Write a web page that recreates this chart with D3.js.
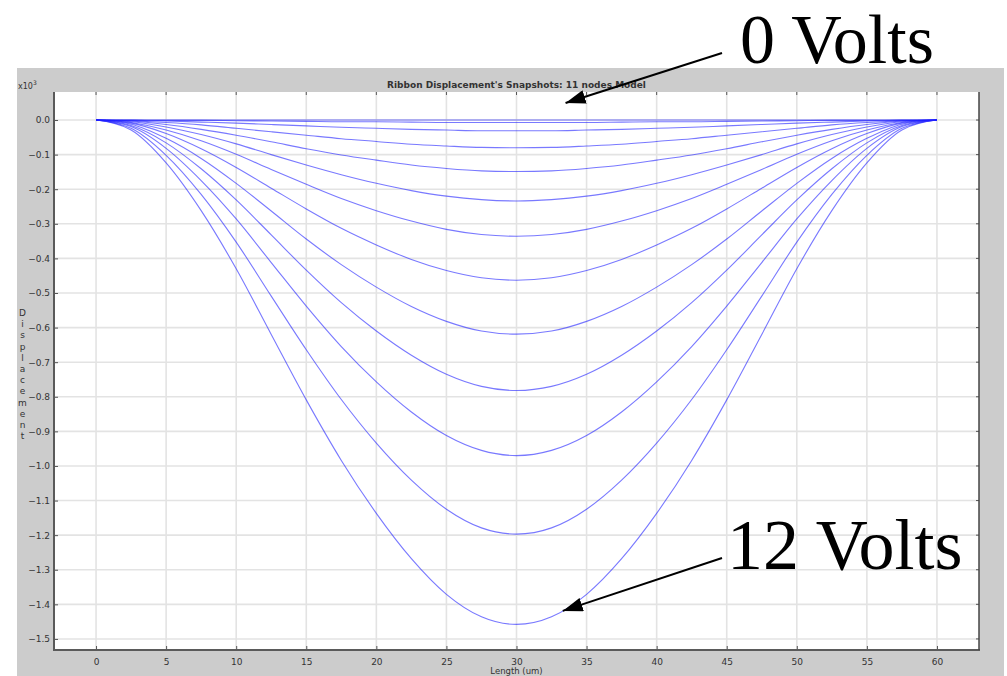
<!DOCTYPE html>
<html>
<head>
<meta charset="utf-8">
<script src="https://cdn.jsdelivr.net/npm/d3@7"></script>
<style>
  html, body { margin: 0; padding: 0; background: #ffffff; }
  svg { display: block; }
</style>
</head>
<body>
<svg id="chart" width="1007" height="676"></svg>
<script>
// Ribbon length positions (um) where the displacement is sampled
const positions = [0, 2.5, 5, 7.5, 10, 12.5, 15, 17.5, 20, 22.5, 25, 27.5, 30,
                   32.5, 35, 37.5, 40, 42.5, 45, 47.5, 50, 52.5, 55, 57.5, 60];

// Displacement snapshots, one per applied voltage step (0 V ... 12 V)
const snap00 = [0,0,0,0,0,0,0,0,0,0,0,0,0,0,0,0,0,0,0,0,0,0,0,0,0];
const snap01 = [0,0,-0.001,-0.001,-0.002,-0.003,-0.004,-0.005,-0.005,-0.006,-0.007,-0.007,-0.007,-0.007,-0.007,-0.006,-0.005,-0.005,-0.004,-0.003,-0.002,-0.001,-0.001,0,0];
const snap02 = [0,-0.001,-0.003,-0.006,-0.009,-0.013,-0.017,-0.021,-0.024,-0.027,-0.029,-0.031,-0.031,-0.031,-0.029,-0.027,-0.024,-0.021,-0.017,-0.013,-0.009,-0.006,-0.003,-0.001,0];
const snap03 = [0,-0.002,-0.007,-0.014,-0.024,-0.034,-0.044,-0.054,-0.062,-0.070,-0.075,-0.079,-0.080,-0.079,-0.075,-0.070,-0.062,-0.054,-0.044,-0.034,-0.024,-0.014,-0.007,-0.002,0];
const snap04 = [0,-0.003,-0.013,-0.027,-0.044,-0.063,-0.083,-0.101,-0.116,-0.130,-0.140,-0.147,-0.149,-0.147,-0.140,-0.130,-0.116,-0.101,-0.083,-0.063,-0.044,-0.027,-0.013,-0.003,0];
const snap05 = [0,-0.005,-0.020,-0.042,-0.069,-0.100,-0.130,-0.158,-0.183,-0.204,-0.220,-0.230,-0.234,-0.230,-0.220,-0.204,-0.183,-0.158,-0.130,-0.100,-0.069,-0.042,-0.020,-0.005,0];
const snap06 = [0,-0.007,-0.029,-0.060,-0.099,-0.143,-0.186,-0.227,-0.262,-0.292,-0.316,-0.331,-0.336,-0.331,-0.316,-0.292,-0.262,-0.227,-0.186,-0.143,-0.099,-0.060,-0.029,-0.007,0];
const snap07 = [0,-0.009,-0.039,-0.083,-0.137,-0.197,-0.257,-0.313,-0.361,-0.403,-0.435,-0.456,-0.463,-0.456,-0.435,-0.403,-0.361,-0.313,-0.257,-0.197,-0.137,-0.083,-0.039,-0.009,0];
const snap08 = [0,-0.012,-0.053,-0.111,-0.183,-0.263,-0.344,-0.418,-0.483,-0.539,-0.582,-0.610,-0.619,-0.610,-0.582,-0.539,-0.483,-0.418,-0.344,-0.263,-0.183,-0.111,-0.053,-0.012,0];
const snap09 = [0,-0.016,-0.066,-0.141,-0.231,-0.332,-0.434,-0.528,-0.610,-0.680,-0.735,-0.770,-0.782,-0.770,-0.735,-0.680,-0.610,-0.528,-0.434,-0.332,-0.231,-0.141,-0.066,-0.016,0];
const snap10 = [0,-0.019,-0.082,-0.175,-0.286,-0.412,-0.538,-0.655,-0.757,-0.844,-0.912,-0.955,-0.970,-0.955,-0.912,-0.844,-0.757,-0.655,-0.538,-0.412,-0.286,-0.175,-0.082,-0.019,0];
const snap11 = [0,-0.024,-0.102,-0.215,-0.353,-0.509,-0.664,-0.808,-0.934,-1.041,-1.125,-1.179,-1.197,-1.179,-1.125,-1.041,-0.934,-0.808,-0.664,-0.509,-0.353,-0.215,-0.102,-0.024,0];
const snap12 = [0,-0.029,-0.124,-0.262,-0.430,-0.620,-0.809,-0.984,-1.137,-1.268,-1.371,-1.436,-1.458,-1.436,-1.371,-1.268,-1.137,-0.984,-0.809,-0.620,-0.430,-0.262,-0.124,-0.029,0];

const snapshots = [snap00, snap01, snap02, snap03, snap04, snap05, snap06,
                   snap07, snap08, snap09, snap10, snap11, snap12];

// Axis ticks
const xTicks = [0, 5, 10, 15, 20, 25, 30, 35, 40, 45, 50, 55, 60];
const yTicks = [0, -0.1, -0.2, -0.3, -0.4, -0.5, -0.6, -0.7, -0.8, -0.9, -1.0, -1.1, -1.2, -1.3, -1.4, -1.5];

// Texts
const titleText = "Ribbon Displacement's Snapshots: 11 nodes Model";
const xLabelText = "Length (um)";
const yLabelText = "Displacement";
const annotations = [
  { text: "0 Volts",  at: [33.5, 0],      tipDy: -17, tx: 740, ty: 63,  size: 70, ax: 722, ay: 53 },
  { text: "12 Volts", at: [33.3, -1.419], tipDy: 0,   tx: 727, ty: 569, size: 72, ax: 722, ay: 558 }
];

const svg = d3.select("#chart");

// Grey frame of the plotting window
svg.append("rect")
  .attr("x", 17).attr("y", 68)
  .attr("width", 1004 - 17).attr("height", 676 - 68)
  .attr("fill", "#cccccc");

const plot = { left: 54, right: 979, top: 92, bottom: 650 };

const x = d3.scaleLinear().domain([-3, 63]).range([plot.left, plot.right]);
const y = d3.scaleLinear().domain([-1.532, 0.081]).range([plot.bottom, plot.top]);

// Plot background
svg.append("rect")
  .attr("x", plot.left).attr("y", plot.top)
  .attr("width", plot.right - plot.left).attr("height", plot.bottom - plot.top)
  .attr("fill", "#ffffff");

// Grid lines
const grid = svg.append("g").attr("stroke", "#e3e3e3").attr("stroke-width", 1.6);
grid.selectAll("line.vx").data(xTicks).join("line")
  .attr("x1", d => x(d)).attr("x2", d => x(d))
  .attr("y1", plot.top).attr("y2", plot.bottom);
grid.selectAll("line.hy").data(yTicks).join("line")
  .attr("x1", plot.left).attr("x2", plot.right)
  .attr("y1", d => y(d)).attr("y2", d => y(d));

// Displacement curves
const line = d3.line()
  .x((d, i) => x(positions[i]))
  .y(d => y(d))
  .curve(d3.curveMonotoneX);

svg.append("g")
  .selectAll("path")
  .data(snapshots)
  .join("path")
  .attr("d", d => line(d))
  .attr("fill", "none")
  .attr("stroke", "#2020ff")
  .attr("stroke-opacity", 0.6)
  .attr("stroke-width", 1.1);

// Axes with inward ticks
const fmt = d3.format(".1f");
const xAxis = d3.axisBottom(x).tickValues(xTicks).tickSizeInner(-4).tickSizeOuter(0).tickPadding(9);
const yAxis = d3.axisLeft(y).tickValues(yTicks).tickSizeInner(-4).tickSizeOuter(0).tickPadding(4)
  .tickFormat(d => (d < 0 ? "\u2212" : "") + fmt(Math.abs(d)));

const gx = svg.append("g").attr("transform", `translate(0,${plot.bottom})`).call(xAxis);
const gy = svg.append("g").attr("transform", `translate(${plot.left},0)`).call(yAxis);

[gx, gy].forEach(g => {
  g.select(".domain").remove();
  g.selectAll(".tick line").attr("stroke", "#555").attr("stroke-width", 1);
  g.selectAll(".tick text")
    .attr("fill", "#333")
    .attr("font-family", "DejaVu Sans, sans-serif")
    .attr("font-size", 9);
});

// Ticks on the top and right edges
const edge = svg.append("g").attr("stroke", "#555").attr("stroke-width", 1);
edge.selectAll("line.t").data(xTicks).join("line")
  .attr("x1", d => x(d)).attr("x2", d => x(d))
  .attr("y1", plot.top).attr("y2", plot.top + 3);
edge.selectAll("line.r").data(yTicks).join("line")
  .attr("x1", plot.right).attr("x2", plot.right - 3)
  .attr("y1", d => y(d)).attr("y2", d => y(d));

// Frame: heavy left/bottom spines, thin right edge
svg.append("line").attr("x1", plot.left).attr("x2", plot.left)
  .attr("y1", plot.top).attr("y2", plot.bottom + 1)
  .attr("stroke", "#5a5a5a").attr("stroke-width", 2);
svg.append("line").attr("x1", plot.left - 1).attr("x2", plot.right + 1)
  .attr("y1", plot.bottom).attr("y2", plot.bottom)
  .attr("stroke", "#5a5a5a").attr("stroke-width", 2);
svg.append("line").attr("x1", plot.right).attr("x2", plot.right)
  .attr("y1", plot.top).attr("y2", plot.bottom)
  .attr("stroke", "#444").attr("stroke-width", 1.5);

// Title
svg.append("text")
  .attr("x", (plot.left + plot.right) / 2).attr("y", 88)
  .attr("text-anchor", "middle")
  .attr("font-family", "DejaVu Sans, sans-serif")
  .attr("font-size", 9).attr("font-weight", "bold")
  .attr("fill", "#333")
  .text(titleText);

// Exponent marker
const expo = svg.append("text")
  .attr("x", 18).attr("y", 89)
  .attr("font-family", "DejaVu Sans, sans-serif")
  .attr("font-size", 8).attr("fill", "#333");
expo.append("tspan").text("x10");
expo.append("tspan").attr("dy", -4).attr("font-size", 6).text("3");

// X label
svg.append("text")
  .attr("x", (plot.left + plot.right) / 2).attr("y", 674)
  .attr("text-anchor", "middle")
  .attr("font-family", "DejaVu Sans, sans-serif")
  .attr("font-size", 8.5).attr("fill", "#333")
  .text(xLabelText);

// Y label, letters stacked vertically
svg.append("g")
  .selectAll("text")
  .data(yLabelText.split(""))
  .join("text")
  .attr("x", 22.5)
  .attr("y", (d, i) => 316 + i * 11.2)
  .attr("text-anchor", "middle")
  .attr("font-family", "DejaVu Sans, sans-serif")
  .attr("font-size", 9).attr("fill", "#333")
  .text(d => d);

// Voltage callouts
const defs = svg.append("defs");
defs.append("marker")
  .attr("id", "arrowhead")
  .attr("viewBox", "0 0 20 14")
  .attr("refX", 20).attr("refY", 7)
  .attr("markerWidth", 20).attr("markerHeight", 14)
  .attr("markerUnits", "userSpaceOnUse")
  .attr("orient", "auto")
  .append("path")
  .attr("d", "M0,0 L20,7 L0,14 Z")
  .attr("fill", "#000");

annotations.forEach(a => {
  const tipX = x(a.at[0]);
  const tipY = y(a.at[1]) + a.tipDy;
  svg.append("line")
    .attr("x1", a.ax).attr("y1", a.ay)
    .attr("x2", tipX).attr("y2", tipY)
    .attr("stroke", "#000").attr("stroke-width", 2)
    .attr("marker-end", "url(#arrowhead)");
  svg.append("text")
    .attr("x", a.tx).attr("y", a.ty)
    .attr("font-family", "Liberation Serif, Times New Roman, serif")
    .attr("font-size", a.size).attr("fill", "#000")
    .text(a.text);
});
</script>
</body>
</html>
